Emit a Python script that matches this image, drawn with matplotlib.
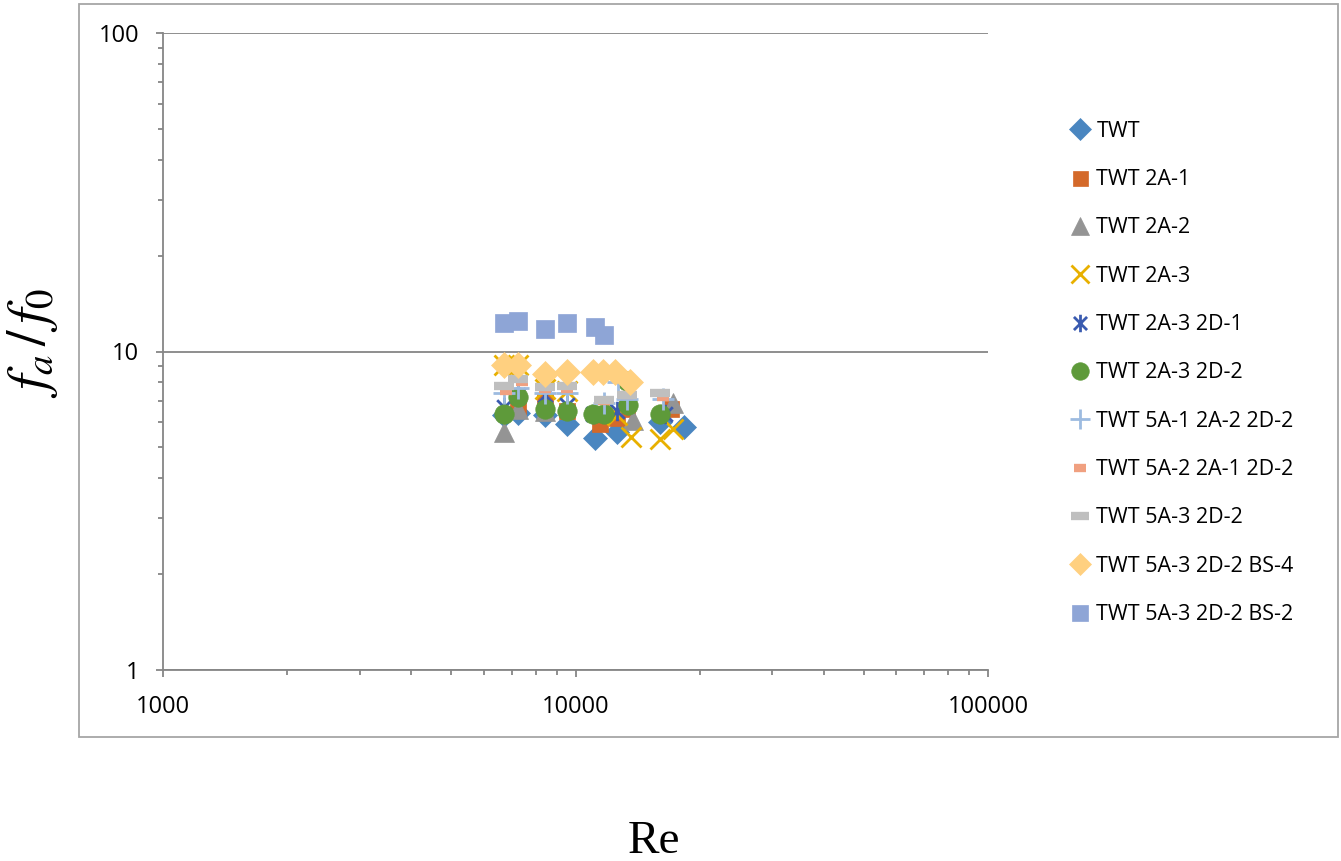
import matplotlib
matplotlib.use("Agg")
import matplotlib.pyplot as plt
from matplotlib.patches import Rectangle
from matplotlib.path import Path
from matplotlib.ticker import NullFormatter

# data (Re, f_a/f_0)
twt_re = [6700, 7250, 8450, 9550, 11150, 12600, 16000, 18300]
twt_f = [6.3, 6.4, 6.3, 5.9, 5.35, 5.6, 6.0, 5.8]

twt_2a1_re = [7250, 8450, 9550, 11450, 12600, 13300, 17000]
twt_2a1_f = [6.7, 7.0, 6.5, 5.9, 6.2, 6.6, 6.6]

twt_2a2_re = [6700, 7250, 8450, 13800, 17200]
twt_2a2_f = [5.6, 6.6, 6.5, 6.1, 6.9]

twt_2a3_re = [6700, 7250, 8450, 9550, 12600, 13600, 16000, 17200]
twt_2a3_f = [9.1, 9.1, 7.6, 7.5, 6.3, 5.4, 5.3, 5.7]

twt_2a3_2d1_re = [6700, 7250, 8450, 9550, 11000, 12600, 13300, 16500]
twt_2a3_2d1_f = [6.7, 7.3, 7.3, 6.8, 6.35, 6.5, 6.9, 6.35]

twt_2a3_2d2_re = [6700, 7250, 8450, 9550, 11000, 11700, 13400, 13300, 16000]
twt_2a3_2d2_f = [6.35, 7.2, 6.6, 6.5, 6.35, 6.35, 6.8, 8.1, 6.35]

twt_5a1_re = [6700, 7250, 8450, 9550, 11700, 12700, 13300, 16300]
twt_5a1_f = [7.4, 7.7, 7.4, 7.4, 6.9, 8.0, 7.1, 7.1]

twt_5a2_re = [6800, 7400, 8450, 9550, 11700, 13300, 16300]
twt_5a2_f = [7.5, 8.0, 7.6, 7.6, 7.0, 7.3, 7.2]

twt_5a3_re = [6700, 7250, 8450, 9550, 11700, 13300, 16000]
twt_5a3_f = [7.8, 8.2, 7.75, 7.8, 7.05, 7.3, 7.4]

twt_bs4_re = [6700, 7250, 8450, 9550, 11030, 11660, 12470, 13560]
twt_bs4_f = [9.1, 9.1, 8.5, 8.6, 8.65, 8.6, 8.6, 8.05]

twt_bs2_re = [6700, 7250, 8450, 9550, 11150, 11700]
twt_bs2_f = [12.3, 12.5, 11.8, 12.3, 11.9, 11.3]

x_ticks = [1000, 10000, 100000]
x_labels = ["1000", "10000", "100000"]
y_ticks = [1, 10, 100]
y_labels = ["1", "10", "100"]

# excel style asterisk: vertical bar plus an X
star = Path([(0, -1), (0, 1), (-0.75, -0.75), (0.75, 0.75), (-0.75, 0.75), (0.75, -0.75)],
            [Path.MOVETO, Path.LINETO, Path.MOVETO, Path.LINETO, Path.MOVETO, Path.LINETO])

series = [
    ("TWT", twt_re, twt_f, dict(marker="D", ms=12, color="#4A86C0")),
    ("TWT 2A-1", twt_2a1_re, twt_2a1_f, dict(marker="s", ms=12, color="#D4692A")),
    ("TWT 2A-2", twt_2a2_re, twt_2a2_f, dict(marker="^", ms=14, color="#949494")),
    ("TWT 2A-3", twt_2a3_re, twt_2a3_f, dict(marker="x", ms=14, mew=2, color="#E8B000")),
    ("TWT 2A-3 2D-1", twt_2a3_2d1_re, twt_2a3_2d1_f, dict(marker=star, ms=14, mew=2, color="#3A5BB0")),
    ("TWT 2A-3 2D-2", twt_2a3_2d2_re, twt_2a3_2d2_f, dict(marker="o", ms=14, color="#5E9A3A")),
    ("TWT 5A-1 2A-2 2D-2", twt_5a1_re, twt_5a1_f, dict(marker="+", ms=16, mew=2, color="#9DBBE0")),
    ("TWT 5A-2 2A-1 2D-2", twt_5a2_re, twt_5a2_f, dict(marker="_", ms=9, mew=6, color="#F0A080")),
    ("TWT 5A-3 2D-2", twt_5a3_re, twt_5a3_f, dict(marker="_", ms=15, mew=6, color="#BFBFBF")),
    ("TWT 5A-3 2D-2 BS-4", twt_bs4_re, twt_bs4_f, dict(marker="D", ms=13, color="#FFD080")),
    ("TWT 5A-3 2D-2 BS-2", twt_bs2_re, twt_bs2_f, dict(marker="s", ms=13, color="#8EA5D6")),
]

plt.rcParams["mathtext.fontset"] = "stix"

fig = plt.figure(figsize=(13.41, 8.61), dpi=100)
ax = fig.add_axes([163 / 1341, 1 - 670 / 861, 825 / 1341, 637 / 861])

for name, re, f, style in series:
    ax.plot(re, f, linestyle="none", label=name, markeredgewidth=style.pop("mew", 0.5),
            **style)

ax.set_xscale("log")
ax.set_yscale("log")
ax.set_xlim(1000, 100000)
ax.set_ylim(1, 100)

grey = "#868686"
ax.yaxis.grid(True, which="major", color=grey, lw=1.3)
ax.set_axisbelow(True)
for s in ["top", "right"]:
    ax.spines[s].set_visible(False)
for s in ["left", "bottom"]:
    ax.spines[s].set_color(grey)
    ax.spines[s].set_linewidth(1.3)

ax.set_xticks(x_ticks)
ax.set_xticklabels(x_labels, fontfamily="Open Sans", fontsize=17)
ax.set_yticks(y_ticks)
ax.set_yticklabels(y_labels, fontfamily="Open Sans", fontsize=17)
ax.xaxis.set_minor_formatter(NullFormatter())
ax.yaxis.set_minor_formatter(NullFormatter())
ax.tick_params(which="major", direction="out", length=5, width=1.3, color=grey)
ax.tick_params(which="minor", direction="out", length=3.5, width=1.3, color=grey)
ax.tick_params(axis="x", which="major", pad=13)
ax.tick_params(axis="y", which="major", pad=12)

leg = ax.legend(loc="upper left", bbox_to_anchor=(1062 / 1341, 1 - 110 / 861),
                bbox_transform=fig.transFigure, frameon=False,
                prop={"family": "Open Sans", "size": 15.5}, handlelength=0.7,
                handletextpad=0.4, labelspacing=1.27, borderpad=0, markerscale=0.9)

fig.text(33 / 1341, 1 - 343 / 861, r"$f_a\,/\,f_0$", rotation=90, fontsize=40,
         ha="center", va="center")
fig.text(654 / 1341, 1 - 853 / 861, "Re", fontsize=34, fontfamily="Liberation Serif",
         ha="center", va="baseline")

fig.patches.append(Rectangle((79 / 1341, 1 - 737 / 861), (1338 - 79) / 1341, (737 - 4) / 861,
                             transform=fig.transFigure, fill=False, edgecolor="#A6A6A6", lw=1.3))

fig.savefig("out.png", dpi=100)
